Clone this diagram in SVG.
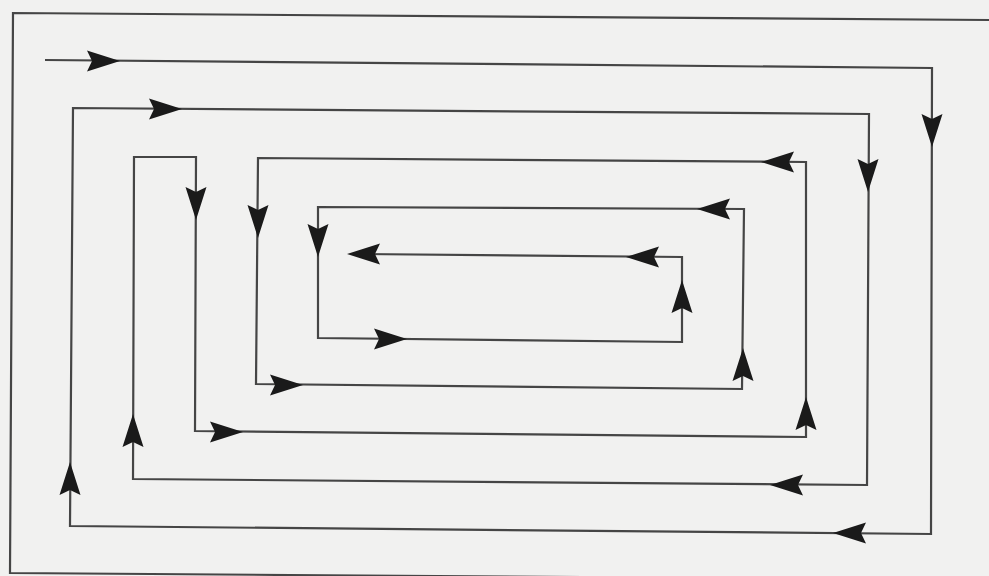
<svg xmlns="http://www.w3.org/2000/svg" width="989" height="576" viewBox="0 0 989 576">
  <style>
    .ln { fill: none; stroke: #454545; stroke-width: 2.2; stroke-linejoin: miter; stroke-linecap: butt; }
    .ah { fill: #1a1a1a; }
  </style>
  <defs>
    <path id="ah" d="M0,0 L-33,-10.5 L-28,0 L-33,10.5 Z"/>
  </defs>
  <rect x="0" y="0" width="989" height="576" fill="#f1f1f0"/>

  <g id="frame">
    <polyline class="ln" points="989,20 13,13 10,573 989,580"/>
  </g>

  <g id="connectors">
    <polyline class="ln" points="45,60 932,68 931,534 70,526 73,108 869,114 867,485 133,479 134,157 196,157 195,431 806,437 806,162 258,158 256,384 742,389 744,209 318,207 318,338 682,342 682,257 360,254"/>
    <g class="ah">
      <use href="#ah" transform="translate(120,61)"/>
      <use href="#ah" transform="translate(932,147) rotate(90)"/>
      <use href="#ah" transform="translate(833,533) rotate(180)"/>
      <use href="#ah" transform="translate(70,462) rotate(-90)"/>
      <use href="#ah" transform="translate(182,109)"/>
      <use href="#ah" transform="translate(868,192) rotate(90)"/>
      <use href="#ah" transform="translate(770,485) rotate(180)"/>
      <use href="#ah" transform="translate(133,414) rotate(-90)"/>
      <use href="#ah" transform="translate(196,220) rotate(90)"/>
      <use href="#ah" transform="translate(243,432)"/>
      <use href="#ah" transform="translate(806,397) rotate(-90)"/>
      <use href="#ah" transform="translate(761,162) rotate(180)"/>
      <use href="#ah" transform="translate(258,238) rotate(90)"/>
      <use href="#ah" transform="translate(303,385)"/>
      <use href="#ah" transform="translate(743,348) rotate(-90)"/>
      <use href="#ah" transform="translate(697,209) rotate(180)"/>
      <use href="#ah" transform="translate(318,257) rotate(90)"/>
      <use href="#ah" transform="translate(407,339)"/>
      <use href="#ah" transform="translate(682,280) rotate(-90)"/>
      <use href="#ah" transform="translate(626,257) rotate(180)"/>
      <use href="#ah" transform="translate(347,254) rotate(180)"/>
    </g>
  </g>
</svg>
